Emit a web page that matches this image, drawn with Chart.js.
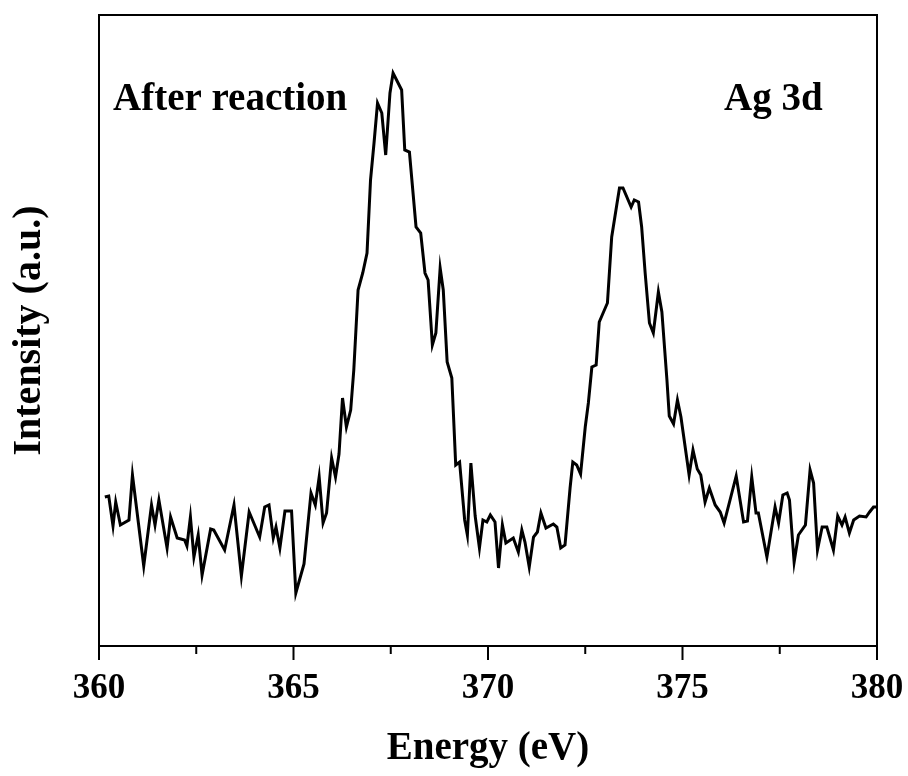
<!DOCTYPE html>
<html>
<head>
<meta charset="utf-8">
<script src="https://cdn.jsdelivr.net/npm/chart.js@4.4.0/dist/chart.umd.min.js"></script>
<style>
  html, body { margin: 0; padding: 0; background: #fff; }
  canvas { display: block; }
</style>
</head>
<body>
<canvas id="xpsChart" width="908" height="776"></canvas>
<script>
// spectre Ag 3d (unités arbitraires)
const energy = [
  360.15, 360.25, 360.36, 360.43, 360.55, 360.77, 360.86, 361.15, 361.35, 361.44,
  361.54, 361.75, 361.84, 362.01, 362.20, 362.26, 362.35, 362.44, 362.55, 362.65,
  362.87, 362.95, 363.23, 363.47, 363.66, 363.86, 364.13, 364.26, 364.37, 364.48,
  364.55, 364.65, 364.78, 364.95, 365.06, 365.27, 365.45, 365.56, 365.66, 365.76,
  365.85, 365.98, 366.08, 366.17, 366.26, 366.36, 366.47, 366.55, 366.66, 366.78,
  366.89, 366.98, 367.07, 367.16, 367.27, 367.37, 367.48, 367.56, 367.78, 367.86,
  367.98, 368.15, 368.27, 368.38, 368.46, 368.57, 368.66, 368.77, 368.85, 368.95,
  369.07, 369.17, 369.27, 369.40, 369.47, 369.56, 369.67, 369.78, 369.87, 369.97,
  370.06, 370.18, 370.27, 370.37, 370.46, 370.65, 370.78, 370.87, 370.95, 371.06,
  371.17, 371.27, 371.36, 371.49, 371.68, 371.77, 371.87, 371.98, 372.11, 372.18,
  372.28, 372.38, 372.50, 372.58, 372.67, 372.78, 372.86, 372.97, 373.07, 373.18,
  373.31, 373.38, 373.47, 373.68, 373.76, 373.87, 373.95, 374.04, 374.15, 374.25,
  374.38, 374.47, 374.60, 374.66, 374.77, 374.87, 374.96, 375.17, 375.27, 375.38,
  375.47, 375.58, 375.69, 375.84, 375.97, 376.07, 376.38, 376.57, 376.67, 376.78,
  376.89, 376.95, 377.17, 377.38, 377.47, 377.58, 377.69, 377.75, 377.87, 377.98,
  378.16, 378.28, 378.37, 378.47, 378.59, 378.71, 378.88, 378.99, 379.10, 379.18,
  379.29, 379.40, 379.55, 379.72, 379.81, 379.91, 379.98
];
const intensity = [
  149, 150, 120, 144, 121, 126, 171, 80, 141, 121,
  146, 98, 129, 108, 106, 100, 129, 89, 111, 71,
  117, 116, 96, 141, 70, 134, 109, 139, 141, 108,
  119, 98, 135, 135, 53, 82, 153, 141, 169, 123,
  133, 188, 169, 192, 248, 219, 236, 276, 356, 373,
  393, 466, 503, 543, 533, 491, 553, 573, 556, 496,
  494, 419, 413, 373, 366, 301, 313, 378, 356, 284,
  268, 181, 184, 126, 111, 183, 130, 98, 126, 124,
  131, 124, 78, 121, 103, 108, 94, 116, 104, 79,
  109, 114, 133, 118, 122, 119, 98, 101, 158, 184,
  181, 172, 219, 243, 279, 281, 324, 334, 343, 409,
  441, 458, 458, 439, 446, 444, 419, 373, 323, 313,
  354, 334, 266, 230, 222, 246, 229, 171, 196, 177,
  171, 144, 158, 141, 134, 123, 170, 124, 125, 169,
  133, 133, 89, 139, 123, 151, 153, 146, 84, 111,
  121, 176, 163, 96, 119, 119, 96, 130, 121, 129,
  113, 126, 130, 129, 134, 139, 139
];
const xMin = 360;
const xMax = 380;
const xStep = 2.5;
const xTickLabels = [360, 365, 370, 375, 380];
const yMin = 0;
const yMax = 631;

const serif = '"Liberation Serif", "Times New Roman", serif';

// cadre + graduations (majeures/mineures) à l'extérieur
const framePlugin = {
  id: 'frame',
  afterDraw(chart) {
    const { ctx, chartArea: a, scales } = chart;
    ctx.save();
    ctx.strokeStyle = '#000';
    ctx.lineWidth = 2;
    ctx.strokeRect(a.left, a.top, a.right - a.left, a.bottom - a.top);
    scales.x.ticks.forEach(t => {
      const px = scales.x.getPixelForValue(t.value);
      const len = xTickLabels.includes(t.value) ? 14 : 8;
      ctx.beginPath();
      ctx.moveTo(px, a.bottom);
      ctx.lineTo(px, a.bottom + len);
      ctx.stroke();
    });
    ctx.restore();
  }
};

// textes dans le graphe
const notesPlugin = {
  id: 'notes',
  afterDatasetsDraw(chart) {
    const { ctx, scales } = chart;
    ctx.save();
    ctx.fillStyle = '#000';
    ctx.font = 'bold 39px ' + serif;
    ctx.textBaseline = 'middle';
    ctx.textAlign = 'left';
    ctx.fillText('After reaction', scales.x.getPixelForValue(360.36), scales.y.getPixelForValue(546));
    ctx.fillText('Ag 3d', scales.x.getPixelForValue(376.07), scales.y.getPixelForValue(546));
    ctx.restore();
  }
};

const points = energy.map((e, i) => ({ x: e, y: intensity[i] }));

new Chart(document.getElementById('xpsChart').getContext('2d'), {
  type: 'line',
  data: {
    datasets: [{
      data: points,
      borderColor: '#000',
      borderWidth: 3,
      pointRadius: 0,
      tension: 0,
      fill: false
    }]
  },
  options: {
    responsive: false,
    animation: false,
    devicePixelRatio: 1,
    layout: { padding: { top: 15, right: 31, left: 0, bottom: 0 } },
    plugins: { legend: { display: false }, tooltip: { enabled: false } },
    scales: {
      x: {
        type: 'linear',
        min: xMin,
        max: xMax,
        grid: { display: false, drawTicks: false },
        border: { display: false },
        ticks: {
          stepSize: xStep,
          autoSkip: false,
          maxRotation: 0,
          padding: 22,
          color: '#000',
          font: { family: serif, size: 35, weight: 'bold' },
          callback: v => xTickLabels.includes(v) ? String(v) : ''
        },
        title: {
          display: true,
          text: 'Energy (eV)',
          color: '#000',
          font: { family: serif, size: 39, weight: 'bold' },
          padding: { top: 0, bottom: 4 }
        },
        afterFit(scale) {
          scale.height = 130;
          scale.paddingLeft = 0;
          scale.paddingRight = 0;
        }
      },
      y: {
        min: yMin,
        max: yMax,
        grid: { display: false, drawTicks: false },
        border: { display: false },
        ticks: { display: false },
        title: {
          display: true,
          text: 'Intensity (a.u.)',
          color: '#000',
          font: { family: serif, size: 40, weight: 'bold' },
          padding: { top: 6, bottom: 0 }
        },
        afterFit(scale) { scale.width = 99; }
      }
    }
  },
  plugins: [framePlugin, notesPlugin]
});
</script>
</body>
</html>
